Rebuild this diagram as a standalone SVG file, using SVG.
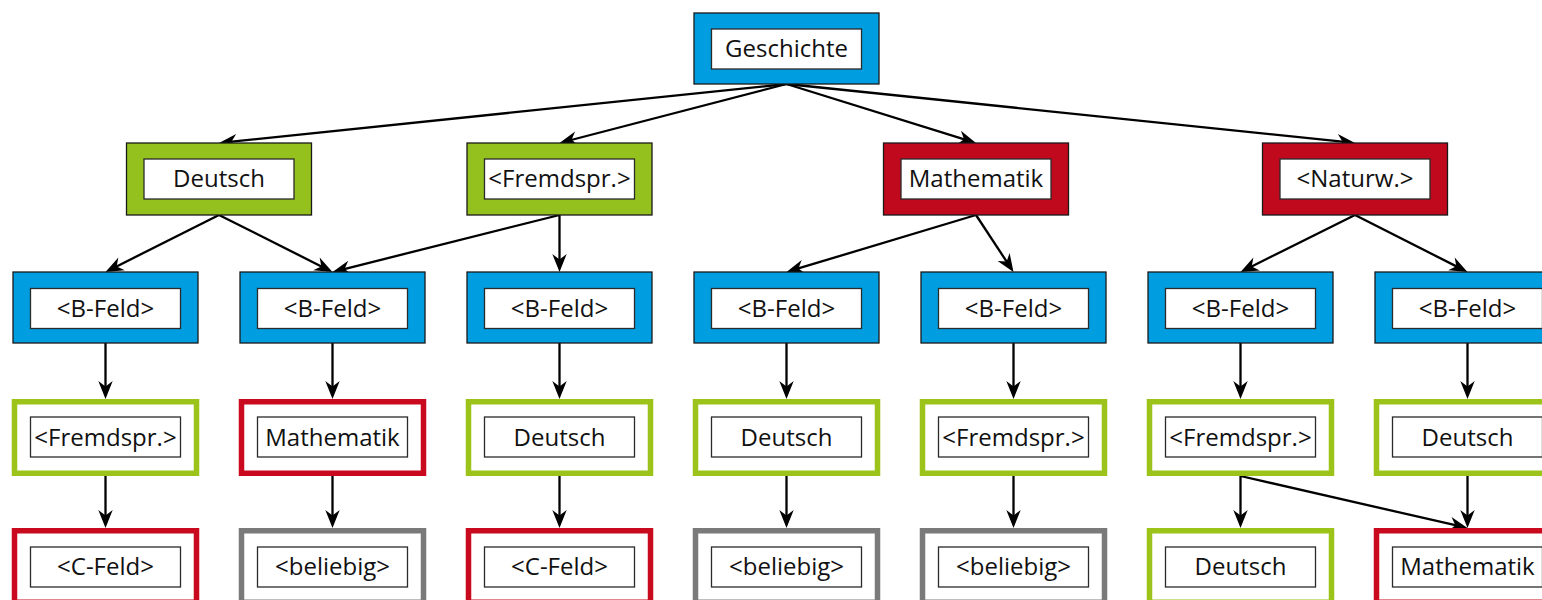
<svg xmlns="http://www.w3.org/2000/svg" width="1542" height="600" viewBox="0 0 1542 600">
<style>
.o{stroke:#1a1a1a;stroke-width:1.3}
.blue{fill:#009ee0}
.green{fill:#95c11f}
.red{fill:#c1091d}
.ol{fill:#fff;stroke-width:5.5}
.og{stroke:#9bc31a}
.or{stroke:#c8091e}
.ogr{stroke:#7a7a7a}
.in{fill:#fff;stroke:#2a2a2a;stroke-width:1.3}
text{font-family:"Open Sans","Noto Sans",sans-serif;font-size:24px;fill:#111;text-anchor:middle}
.e{stroke:#000;stroke-width:2.3;fill:none;marker-end:url(#ah)}
</style>
<defs>
<marker id="ah" viewBox="-12 -9 22 18" markerWidth="22" markerHeight="18" refX="0" refY="0" markerUnits="userSpaceOnUse" orient="auto">
<path d="M8,0 L-10,-7.2 L-4.5,0 L-10,7.2 Z" fill="#000"/>
</marker>
</defs>
<g id="connectors">
<line class="e" x1="786.5" y1="84" x2="226.96" y2="142.17"/>
<line class="e" x1="786.5" y1="84" x2="567.24" y2="140.99"/>
<line class="e" x1="786.5" y1="84" x2="968.36" y2="140.62"/>
<line class="e" x1="786.5" y1="84" x2="1347.04" y2="142.17"/>
<line class="e" x1="219" y1="215" x2="112.65" y2="268.41"/>
<line class="e" x1="219" y1="215" x2="325.35" y2="268.41"/>
<line class="e" x1="559.5" y1="215" x2="340.26" y2="270.05"/>
<line class="e" x1="559.5" y1="215" x2="559.5" y2="264"/>
<line class="e" x1="976" y1="215" x2="794.16" y2="269.7"/>
<line class="e" x1="976" y1="215" x2="1009.1" y2="265.32"/>
<line class="e" x1="1355" y1="215" x2="1247.66" y2="268.43"/>
<line class="e" x1="1355" y1="215" x2="1460.36" y2="268.38"/>
<line class="e" x1="105.5" y1="343" x2="105.5" y2="391"/>
<line class="e" x1="332.5" y1="343" x2="332.5" y2="391"/>
<line class="e" x1="559.5" y1="343" x2="559.5" y2="391"/>
<line class="e" x1="786.5" y1="343" x2="786.5" y2="391"/>
<line class="e" x1="1013.5" y1="343" x2="1013.5" y2="391"/>
<line class="e" x1="1240.5" y1="343" x2="1240.5" y2="391"/>
<line class="e" x1="1467.5" y1="343" x2="1467.5" y2="391"/>
<line class="e" x1="105.5" y1="476" x2="105.5" y2="520"/>
<line class="e" x1="332.5" y1="476" x2="332.5" y2="520"/>
<line class="e" x1="559.5" y1="476" x2="559.5" y2="520"/>
<line class="e" x1="786.5" y1="476" x2="786.5" y2="520"/>
<line class="e" x1="1013.5" y1="476" x2="1013.5" y2="520"/>
<line class="e" x1="1240.5" y1="476" x2="1240.5" y2="520"/>
<line class="e" x1="1240.5" y1="476" x2="1459.7" y2="526.21"/>
<line class="e" x1="1467.5" y1="476" x2="1467.5" y2="520"/>
</g>
<g id="n0"><rect class="o blue" x="694" y="13" width="185" height="71"/><rect class="in" x="711.5" y="29" width="150" height="40"/><text x="786.5" y="57">Geschichte</text></g>
<g id="n1"><rect class="o green" x="126.5" y="143" width="185" height="72"/><rect class="in" x="144" y="159" width="150" height="40"/><text x="219" y="187">Deutsch</text></g>
<g id="n2"><rect class="o green" x="467" y="143" width="185" height="72"/><rect class="in" x="484.5" y="159" width="150" height="40"/><text x="559.5" y="187">&lt;Fremdspr.&gt;</text></g>
<g id="n3"><rect class="o red" x="883.5" y="143" width="185" height="72"/><rect class="in" x="901" y="159" width="150" height="40"/><text x="976" y="187">Mathematik</text></g>
<g id="n4"><rect class="o red" x="1262.5" y="143" width="185" height="72"/><rect class="in" x="1280" y="159" width="150" height="40"/><text x="1355" y="187">&lt;Naturw.&gt;</text></g>
<g id="b1"><rect class="o blue" x="13" y="272" width="185" height="71"/><rect class="in" x="30.5" y="288.5" width="150" height="40"/><text x="105.5" y="316.5">&lt;B-Feld&gt;</text></g>
<g id="b2"><rect class="o blue" x="240" y="272" width="185" height="71"/><rect class="in" x="257.5" y="288.5" width="150" height="40"/><text x="332.5" y="316.5">&lt;B-Feld&gt;</text></g>
<g id="b3"><rect class="o blue" x="467" y="272" width="185" height="71"/><rect class="in" x="484.5" y="288.5" width="150" height="40"/><text x="559.5" y="316.5">&lt;B-Feld&gt;</text></g>
<g id="b4"><rect class="o blue" x="694" y="272" width="185" height="71"/><rect class="in" x="711.5" y="288.5" width="150" height="40"/><text x="786.5" y="316.5">&lt;B-Feld&gt;</text></g>
<g id="b5"><rect class="o blue" x="921" y="272" width="185" height="71"/><rect class="in" x="938.5" y="288.5" width="150" height="40"/><text x="1013.5" y="316.5">&lt;B-Feld&gt;</text></g>
<g id="b6"><rect class="o blue" x="1148" y="272" width="185" height="71"/><rect class="in" x="1165.5" y="288.5" width="150" height="40"/><text x="1240.5" y="316.5">&lt;B-Feld&gt;</text></g>
<g id="b7"><rect class="o blue" x="1375" y="272" width="185" height="71"/><rect class="in" x="1392.5" y="288.5" width="150" height="40"/><text x="1467.5" y="316.5">&lt;B-Feld&gt;</text></g>
<g id="c1"><rect class="ol og" x="14.5" y="401.75" width="182" height="71.5"/><rect class="in" x="30.5" y="417" width="150" height="40"/><text x="105.5" y="445.5">&lt;Fremdspr.&gt;</text></g>
<g id="c2"><rect class="ol or" x="241.5" y="401.75" width="182" height="71.5"/><rect class="in" x="257.5" y="417" width="150" height="40"/><text x="332.5" y="445.5">Mathematik</text></g>
<g id="c3"><rect class="ol og" x="468.5" y="401.75" width="182" height="71.5"/><rect class="in" x="484.5" y="417" width="150" height="40"/><text x="559.5" y="445.5">Deutsch</text></g>
<g id="c4"><rect class="ol og" x="695.5" y="401.75" width="182" height="71.5"/><rect class="in" x="711.5" y="417" width="150" height="40"/><text x="786.5" y="445.5">Deutsch</text></g>
<g id="c5"><rect class="ol og" x="922.5" y="401.75" width="182" height="71.5"/><rect class="in" x="938.5" y="417" width="150" height="40"/><text x="1013.5" y="445.5">&lt;Fremdspr.&gt;</text></g>
<g id="c6"><rect class="ol og" x="1149.5" y="401.75" width="182" height="71.5"/><rect class="in" x="1165.5" y="417" width="150" height="40"/><text x="1240.5" y="445.5">&lt;Fremdspr.&gt;</text></g>
<g id="c7"><rect class="ol og" x="1376.5" y="401.75" width="182" height="71.5"/><rect class="in" x="1392.5" y="417" width="150" height="40"/><text x="1467.5" y="445.5">Deutsch</text></g>
<g id="d1"><rect class="ol or" x="14.5" y="530.75" width="182" height="71.5"/><rect class="in" x="30.5" y="547" width="150" height="40"/><text x="105.5" y="575">&lt;C-Feld&gt;</text></g>
<g id="d2"><rect class="ol ogr" x="241.5" y="530.75" width="182" height="71.5"/><rect class="in" x="257.5" y="547" width="150" height="40"/><text x="332.5" y="575">&lt;beliebig&gt;</text></g>
<g id="d3"><rect class="ol or" x="468.5" y="530.75" width="182" height="71.5"/><rect class="in" x="484.5" y="547" width="150" height="40"/><text x="559.5" y="575">&lt;C-Feld&gt;</text></g>
<g id="d4"><rect class="ol ogr" x="695.5" y="530.75" width="182" height="71.5"/><rect class="in" x="711.5" y="547" width="150" height="40"/><text x="786.5" y="575">&lt;beliebig&gt;</text></g>
<g id="d5"><rect class="ol ogr" x="922.5" y="530.75" width="182" height="71.5"/><rect class="in" x="938.5" y="547" width="150" height="40"/><text x="1013.5" y="575">&lt;beliebig&gt;</text></g>
<g id="d6"><rect class="ol og" x="1149.5" y="530.75" width="182" height="71.5"/><rect class="in" x="1165.5" y="547" width="150" height="40"/><text x="1240.5" y="575">Deutsch</text></g>
<g id="d7"><rect class="ol or" x="1376.5" y="530.75" width="182" height="71.5"/><rect class="in" x="1392.5" y="547" width="150" height="40"/><text x="1467.5" y="575">Mathematik</text></g>
</svg>
